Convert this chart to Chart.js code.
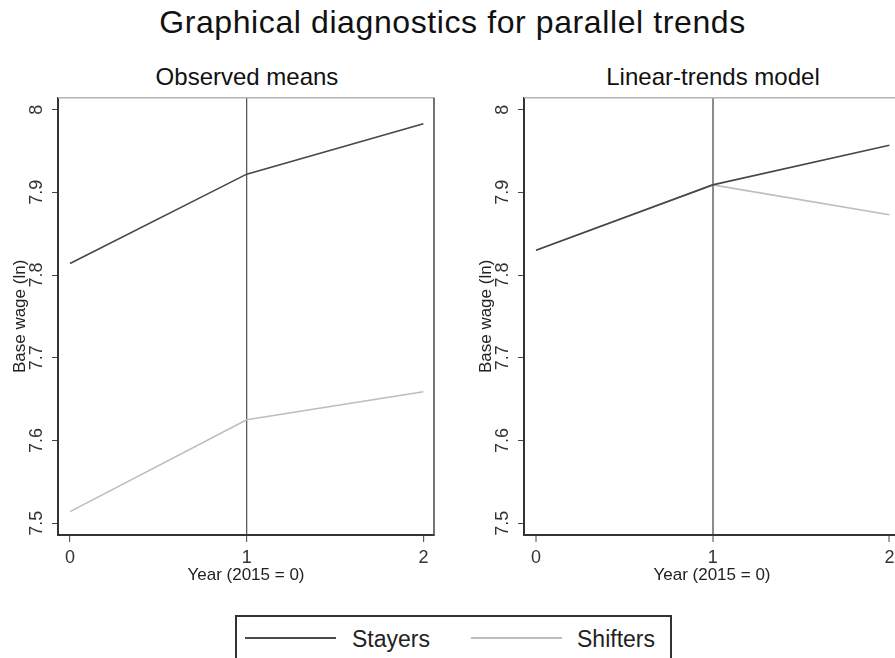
<!DOCTYPE html>
<html lang="en">
<head>
    <meta charset="UTF-8">
    <title>Graphical diagnostics for parallel trends</title>
    <script src="https://cdn.jsdelivr.net/npm/chart.js"></script>
    <style>
        body {
            margin: 0;
            width: 895px;
            height: 658px;
            overflow: hidden;
            position: relative;
            background: #fff;
            font-family: 'Liberation Sans', Arial, sans-serif;
            color: #111;
        }
        .title {
            position: absolute;
            left: 5px;
            top: 6px;
            width: 895px;
            text-align: center;
            font-size: 32px;
            line-height: 32px;
            letter-spacing: 0.6px;
        }
        .subtitle {
            position: absolute;
            top: 65px;
            width: 300px;
            text-align: center;
            font-size: 24px;
            line-height: 24px;
        }
        canvas {
            position: absolute;
            top: 85px;
        }
        .legend {
            position: absolute;
            left: 235px;
            top: 615px;
            width: 433px;
            height: 60px;
            border: 2px solid #333;
        }
        .key {
            position: absolute;
            top: 637px;
            height: 2px;
            width: 91px;
        }
        .label {
            position: absolute;
            top: 627px;
            font-size: 23px;
            line-height: 24px;
            color: #222;
        }
    </style>
</head>
<body>
    <div class="title">Graphical diagnostics for parallel trends</div>
    <div class="subtitle" style="left: 97px;">Observed means</div>
    <div class="subtitle" style="left: 563px;">Linear-trends model</div>
    <canvas id="left" width="445" height="520" style="left: 0px;"></canvas>
    <canvas id="right" width="445" height="520" style="left: 466px;"></canvas>
    <div class="legend"></div>
    <div class="key" style="left: 245px; background: #4a4a4a;"></div>
    <div class="label" style="left: 352px;">Stayers</div>
    <div class="key" style="left: 471px; background: #bdbdbd;"></div>
    <div class="label" style="left: 577px;">Shifters</div>

    <script>
        const years = [0, 1, 2];
        const xTicks = [0, 1, 2];
        const yTicks = [7.5, 7.6, 7.7, 7.8, 7.9, 8];
        const yTickLabels = ['7.5', '7.6', '7.7', '7.8', '7.9', '8'];
        const seriesNames = ['Stayers', 'Shifters'];

        // observed means
        const observedStayers = [7.814, 7.922, 7.983];
        const observedShifters = [7.514, 7.625, 7.659];

        // linear-trends model
        const trendStayers = [7.830, 7.909, 7.957];
        const trendShifters = [7.830, 7.909, 7.873];

        Chart.defaults.font.family = "'Liberation Sans', Arial, sans-serif";

        // top and right edges of the plot box
        const frame = {
            id: 'frame',
            afterDraw(chart) {
                const { ctx, chartArea: a } = chart;
                ctx.save();
                ctx.lineWidth = 1.5;
                ctx.strokeStyle = '#b4b4b4';
                ctx.beginPath();
                ctx.moveTo(a.left, a.top);
                ctx.lineTo(a.right, a.top);
                ctx.stroke();
                ctx.strokeStyle = '#444';
                ctx.beginPath();
                ctx.moveTo(a.right, a.top);
                ctx.lineTo(a.right, a.bottom + 1);
                ctx.stroke();
                ctx.restore();
            }
        };

        function toPoints(values) {
            return years.map((x, i) => ({ x: x, y: values[i] }));
        }

        function makePanel(id, stayers, shifters, refColor, refWidth) {
            const ctx = document.getElementById(id).getContext('2d');
            return new Chart(ctx, {
                type: 'line',
                data: {
                    // first dataset is drawn on top
                    datasets: [
                        {
                            label: seriesNames[0],
                            data: toPoints(stayers),
                            borderColor: '#474747',
                            borderWidth: 1.6,
                            pointRadius: 0,
                            tension: 0
                        },
                        {
                            label: seriesNames[1],
                            data: toPoints(shifters),
                            borderColor: '#bdbdbd',
                            borderWidth: 1.6,
                            pointRadius: 0,
                            tension: 0
                        }
                    ]
                },
                options: {
                    responsive: false,
                    animation: false,
                    layout: { padding: { top: 8, right: 11, left: 0, bottom: 0 } },
                    plugins: {
                        legend: { display: false },
                        tooltip: { enabled: false }
                    },
                    scales: {
                        x: {
                            type: 'linear',
                            min: -0.068,
                            max: 2.06,
                            afterBuildTicks: s => { s.ticks = xTicks.map(v => ({ value: v })); },
                            afterFit: s => { s.height = 70; },
                            ticks: {
                                autoSkip: false,
                                maxRotation: 0,
                                padding: 5,
                                color: '#333',
                                font: { size: 18 },
                                callback: (v, i) => String(xTicks[i])
                            },
                            grid: {
                                color: c => (c.tick && c.tick.value === 1) ? refColor : 'rgba(0,0,0,0)',
                                lineWidth: refWidth,
                                tickColor: '#444',
                                tickWidth: 1,
                                tickLength: 7
                            },
                            border: { color: '#333', width: 2 },
                            title: {
                                display: true,
                                text: 'Year (2015 = 0)',
                                color: '#222',
                                font: { size: 17 },
                                padding: { top: 0, bottom: 19 }
                            }
                        },
                        y: {
                            min: 7.4857,
                            max: 8.0143,
                            afterBuildTicks: s => { s.ticks = yTicks.map(v => ({ value: v })); },
                            afterFit: s => { s.width = 58; },
                            ticks: {
                                minRotation: 90,
                                maxRotation: 90,
                                crossAlign: 'center',
                                padding: 2,
                                color: '#333',
                                font: { size: 18 },
                                callback: (v, i) => yTickLabels[i]
                            },
                            grid: {
                                drawOnChartArea: false,
                                tickColor: '#444',
                                tickWidth: 1,
                                tickLength: 6
                            },
                            border: { color: '#333', width: 2 },
                            title: {
                                display: true,
                                text: 'Base wage (ln)',
                                color: '#222',
                                font: { size: 17 },
                                padding: { top: 10, bottom: 0 }
                            }
                        }
                    }
                },
                plugins: [frame]
            });
        }

        window.onload = function () {
            makePanel('left', observedStayers, observedShifters, '#5a5a5a', 1.3);
            makePanel('right', trendStayers, trendShifters, '#8c8c8c', 2);
        };
    </script>
</body>
</html>
